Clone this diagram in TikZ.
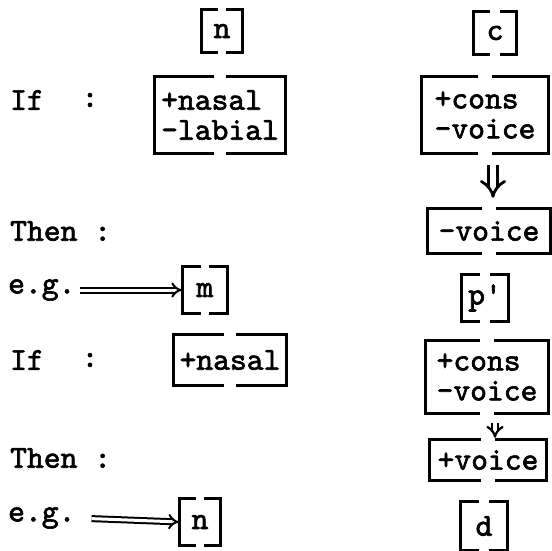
\documentclass[tikz,border=0pt]{standalone}
\usepackage{fontspec}
\newfontfamily\tw{lmmono10-regular.otf}[FakeBold=2]
\usetikzlibrary{arrows.meta,calc}
\newcommand{\brkt}[2]{%
  \draw[brline] ($(#1.north)+(-#2,0)$) -| (#1.south west) -- ($(#1.south)+(-#2,0)$);
  \draw[brline] ($(#1.north)+(#2,0)$) -| (#1.south east) -- ($(#1.south)+(#2,0)$);
}
\tikzset{
  every node/.style={font=\tw\fontsize{32}{30}\selectfont, inner sep=0pt},
  lab/.style={anchor=west},
  mat/.style={align=left},
  brline/.style={line width=2.8pt, line cap=rect, line join=miter},
  imp/.style={double, double distance=3pt, line width=2pt, -{Implies[scale=1.25]}},
  bigdown/.style={double, double distance=6pt, line width=2.8pt, -{Implies[scale=1.3]}},
  smalldown/.style={double, double distance=3.5pt, line width=2.2pt, -{Implies[scale=1.2]}},
}
\begin{document}
\begin{tikzpicture}[x=1pt,y=-1pt]
\fill[white] (0,0) rectangle (551,551);
\useasboundingbox (0,0) rectangle (551,551);
% row 1
\node[minimum width=40pt, minimum height=42pt] (n1) at (222,31) {n};
\node[minimum width=43pt, minimum height=43pt] (c1) at (495,33) {c};
\node[lab] (if1) at (10,100) {If};
\node (co1) at (90,100) {:};
\node[mat, minimum width=131pt, minimum height=76pt] (box1) at (220,115) {+nasal\\-labial};
\node[mat, minimum width=127pt, minimum height=77pt] (box2) at (485,115) {+cons\\-voice};
\node[lab] (then1) at (10,231) {Then :};
\node[mat, minimum width=122pt, minimum height=44pt] (box3) at (489,231) {-voice};
\node[lab] (eg1) at (8,290) {e.g.};
\node[minimum width=44pt, minimum height=46pt] (m1) at (205,290) {m};
\node[minimum width=46pt, minimum height=46pt] (p1) at (485,298) {p'};
% row 2
\node[lab] (if2) at (10,360) {If};
\node (co2) at (90,360) {:};
\node[mat, minimum width=112pt, minimum height=50pt] (box4) at (230,360) {+nasal};
\node[mat, minimum width=123pt, minimum height=73pt] (box5) at (487,377) {+cons\\-voice};
\node[lab] (then2) at (10,458) {Then :};
\node[mat, minimum width=117pt, minimum height=40pt] (box6) at (488,460) {+voice};
\node[lab] (eg2) at (8,518) {e.g.};
\node[minimum width=40pt, minimum height=46pt] (n2) at (200,522) {n};
\node[minimum width=46pt, minimum height=48pt] (d1) at (484,526) {d};
% brackets
\brkt{n1}{5}
\brkt{c1}{6}
\brkt{box1}{7}
\brkt{box2}{8}
\brkt{box3}{8}
\brkt{m1}{5}
\brkt{p1}{6}
\brkt{box4}{7}
\brkt{box5}{8}
\brkt{box6}{8}
\brkt{n2}{5}
\brkt{d1}{6}
% arrows
\draw[imp, shorten <=4pt, shorten >=1pt] (eg1.east) -- (m1.west);
\draw[imp, shorten <=16pt, shorten >=1pt] (eg2.east) -- (n2.west);
\draw[bigdown, shorten <=11pt, shorten >=11pt] ([xshift=8pt]box2.south) -- ([xshift=8pt]box2.south |- box3.north);
\draw[smalldown, shorten <=9pt, shorten >=2pt] ([xshift=8pt]box5.south) -- ([xshift=8pt]box5.south |- box6.north);
\end{tikzpicture}
\end{document}
